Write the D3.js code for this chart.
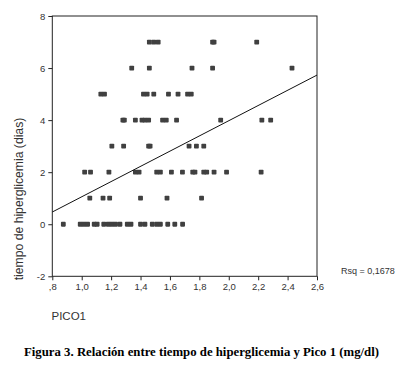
<!DOCTYPE html>
<html><head><meta charset="utf-8">
<script src="https://cdn.jsdelivr.net/npm/d3@7"></script>
<style>
body{margin:0;background:#fff;}
svg{display:block;}
</style></head>
<body>
<svg id="c" width="400" height="373"></svg>
<script>
// Data: PICO1 values grouped by "tiempo de hiperglicemia (dias)"
const diasLevels = [7, 6, 5, 4, 3, 2, 1, 0];
const pico_dias7 = [1.46, 1.49, 1.52, 1.89, 1.90, 2.19];
const pico_dias6 = [1.34, 1.46, 1.75, 1.89, 2.43];
const pico_dias5 = [1.13, 1.155, 1.42, 1.445, 1.49, 1.59, 1.655, 1.72, 1.745];
const pico_dias4 = [1.28, 1.29, 1.365, 1.41, 1.43, 1.455, 1.55, 1.575, 1.645, 1.945, 2.225, 2.285];
const pico_dias3 = [1.205, 1.285, 1.455, 1.465, 1.73, 1.78, 1.83];
const pico_dias2 = [1.02, 1.06, 1.185, 1.365, 1.39, 1.51, 1.535, 1.61, 1.685, 1.755, 1.77, 1.83, 1.85, 1.90, 1.985, 2.22];
const pico_dias1 = [1.055, 1.145, 1.19, 1.40, 1.58, 1.815];
const pico_dias0 = [0.875, 0.99, 1.015, 1.04, 1.085, 1.105, 1.15, 1.18, 1.205, 1.23, 1.26, 1.31, 1.335, 1.40, 1.43, 1.48, 1.51, 1.535, 1.585, 1.633, 1.686];
const picoByLevel = [pico_dias7, pico_dias6, pico_dias5, pico_dias4, pico_dias3, pico_dias2, pico_dias1, pico_dias0];

// Linear fit line (endpoints)
const fitX = [0.8, 2.6];
const fitY = [0.47, 5.73];

const xTicks = [0.8, 1.0, 1.2, 1.4, 1.6, 1.8, 2.0, 2.2, 2.4, 2.6];
const xTickLabels = [",8", "1,0", "1,2", "1,4", "1,6", "1,8", "2,0", "2,2", "2,4", "2,6"];
const yTicks = [-2, 0, 2, 4, 6, 8];
const yTickLabels = ["-2", "0", "2", "4", "6", "8"];
const xTitle = "PICO1";
const yTitle = "tiempo de hiperglicemia (dias)";
const rsqText = "Rsq = 0,1678";
const caption = "Figura 3. Relación entre tiempo de hiperglicemia y Pico 1 (mg/dl)";

const points = [];
diasLevels.forEach((d, i) => picoByLevel[i].forEach(p => points.push({x: p, y: d})));

const L = 52.3, R = 317, T = 16, B = 276.3;
const svg = d3.select("#c");
const x = d3.scaleLinear().domain([0.8, 2.6]).range([L, R]);
const y = d3.scaleLinear().domain([-2, 8]).range([B, T]);

const font = "'Liberation Sans', Arial, sans-serif";
const ink = "#333";

// Frame
svg.append("rect").attr("x", L).attr("y", T).attr("width", R - L).attr("height", B - T)
  .attr("fill", "none").attr("stroke", "#222").attr("stroke-width", 1);

// Axes
const xAxis = svg.append("g").attr("transform", `translate(0,${B})`)
  .call(d3.axisBottom(x).tickValues(xTicks).tickSize(4).tickPadding(3)
    .tickFormat((d, i) => xTickLabels[i]));
const yAxis = svg.append("g").attr("transform", `translate(${L},0)`)
  .call(d3.axisLeft(y).tickValues(yTicks).tickSize(4).tickPadding(3)
    .tickFormat((d, i) => yTickLabels[i]));
[xAxis, yAxis].forEach(g => {
  g.select(".domain").remove();
  g.selectAll(".tick line").attr("stroke", "#222");
  g.selectAll(".tick text").attr("fill", ink).style("font-family", font).style("font-size", "9.5px");
});

// Points
svg.append("g").selectAll("rect").data(points).join("rect")
  .attr("x", d => x(d.x) - 2.4).attr("y", d => y(d.y) - 2.4)
  .attr("width", 4.8).attr("height", 4.8).attr("rx", 0.8)
  .attr("fill", "#404040");

// Fit line
svg.append("line")
  .attr("x1", x(fitX[0])).attr("y1", y(fitY[0]))
  .attr("x2", x(fitX[1])).attr("y2", y(fitY[1]))
  .attr("stroke", "#111").attr("stroke-width", 1);

// Texts
svg.append("text").attr("x", 341).attr("y", 274).text(rsqText)
  .style("font-family", font).style("font-size", "9px").attr("fill", ink);
svg.append("text").attr("x", 51.5).attr("y", 320).text(xTitle)
  .style("font-family", font).style("font-size", "11.5px").attr("fill", ink);
svg.append("text").attr("transform", "translate(23,199) rotate(-90)")
  .attr("text-anchor", "middle").text(yTitle)
  .style("font-family", font).style("font-size", "12.2px").attr("fill", ink);
svg.append("text").attr("x", 24).attr("y", 356).text(caption)
  .attr("textLength", 355).attr("lengthAdjust", "spacingAndGlyphs")
  .style("font-family", "'Liberation Serif', 'Times New Roman', serif")
  .style("font-weight", "bold").style("font-size", "12.5px").attr("fill", "#000");
</script>
</body></html>
